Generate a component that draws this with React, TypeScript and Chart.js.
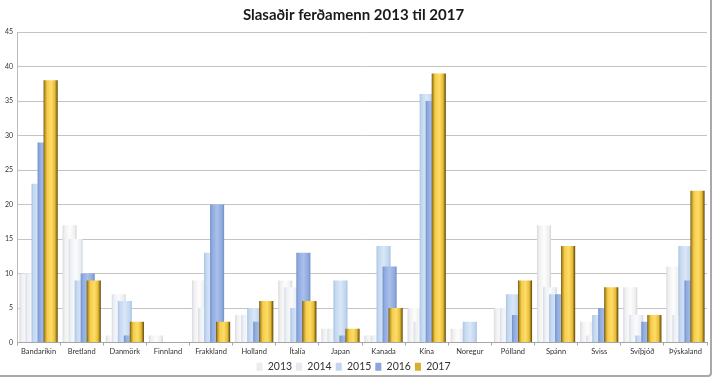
import React, { useEffect, useRef } from "react";
import { Chart, registerables } from "chart.js";

Chart.register(...registerables);

const titleText = "Slasaðir ferðamenn 2013 til 2017";

const categories = [
  "Bandaríkin", "Bretland", "Danmörk", "Finnland", "Frakkland", "Holland",
  "Ítalía", "Japan", "Kanada", "Kína", "Noregur", "Pólland", "Spánn",
  "Sviss", "Svíþjóð", "Þýskaland",
];

const seriesNames = ["2013", "2014", "2015", "2016", "2017"];

const v2013 = [10, 17, 1, 1, 9, 4, 9, 2, 1, 5, 2, 5, 17, 3, 8, 11];
const v2014 = [10, 15, 7, 0, 5, 4, 8, 2, 1, 3, 0, 5, 8, 1, 4, 4];
const v2015 = [23, 9, 6, 0, 13, 5, 5, 9, 14, 36, 3, 7, 7, 4, 1, 14];
const v2016 = [29, 10, 1, 0, 20, 3, 13, 1, 11, 35, 0, 4, 7, 5, 3, 9];
const v2017 = [38, 9, 3, 0, 3, 6, 6, 2, 5, 39, 0, 9, 14, 8, 4, 22];

const yTicksMax = 45;
const yTicksStep = 5;

type Stop = [number, string];

const palettes: { stops: Stop[]; solid: string; legend: string }[] = [
  { stops: [[0, "#d9d9dc"], [0.15, "#efeff1"], [0.5, "#fdfdfd"], [0.85, "#efeff1"], [1, "#d5d5d9"]], solid: "#ececee", legend: "#ececee" },
  { stops: [[0, "#d6dbe4"], [0.15, "#eceff4"], [0.5, "#fafbfd"], [0.85, "#eaedf2"], [1, "#d2d8e2"]], solid: "#e4e8ef", legend: "#e6e9f0" },
  { stops: [[0, "#aac3e3"], [0.15, "#c3d8f0"], [0.5, "#dae7f7"], [0.85, "#c2d6ef"], [1, "#a7c0e1"]], solid: "#c0d5ee", legend: "#c3d6ee" },
  { stops: [[0, "#7390c9"], [0.15, "#90abe0"], [0.5, "#a9c0ea"], [0.85, "#8fa9dd"], [1, "#6f8cc4"]], solid: "#8eaadf", legend: "#8aa6dc" },
  { stops: [[0, "#5e4606"], [0.07, "#b08a1a"], [0.25, "#f4cd4e"], [0.55, "#ffdc66"], [0.8, "#e6bd3c"], [0.92, "#9c7812"], [1, "#4f3a04"]], solid: "#dcb031", legend: "#d9ad2e" },
];

const makeBg = (stops: Stop[], solid: string) => (c: any) => {
  const el = c.element;
  if (c.type !== "data" || !el || typeof el.x !== "number" || !el.width || isNaN(el.x)) return solid;
  const g = c.chart.ctx.createLinearGradient(el.x - el.width / 2, 0, el.x + el.width / 2, 0);
  stops.forEach(([o, col]) => g.addColorStop(o, col));
  return g;
};

const forwardDraw = {
  id: "forwardDraw",
  beforeDatasetsDraw(chart: any) {
    const { ctx, chartArea } = chart;
    ctx.save();
    ctx.beginPath();
    ctx.rect(chartArea.left, chartArea.top, chartArea.right - chartArea.left, chartArea.bottom - chartArea.top);
    ctx.clip();
    for (let i = 0; i < chart.data.datasets.length; i++) {
      const meta = chart.getDatasetMeta(i);
      if (chart.isDatasetVisible(i)) meta.controller.draw();
    }
    ctx.restore();
    return false;
  },
};

export default function App() {
  const ref = useRef<HTMLCanvasElement | null>(null);
  useEffect(() => {
    if (!ref.current) return;
    const values = [v2013, v2014, v2015, v2016, v2017];
    const chart = new Chart(ref.current, {
      type: "bar",
      data: {
        labels: categories,
        datasets: seriesNames.map((name, i) => ({
          label: name,
          data: values[i],
          backgroundColor: makeBg(palettes[i].stops, palettes[i].solid) as any,
          borderWidth: 0,
          categoryPercentage: 0.7,
          barPercentage: 2.33,
        })),
      },
      options: {
        animation: false,
        responsive: false,
        maintainAspectRatio: false,
        layout: { padding: { left: 0, right: 6, top: 0, bottom: -4 } },
        plugins: {
          title: {
            display: true,
            text: titleText,
            color: "#1a1a1a",
            font: { family: "Lato, 'Open Sans', sans-serif", size: 15, weight: "bold" },
            padding: { top: 6, bottom: 8 },
          },
          legend: {
            position: "bottom",
            labels: {
              boxWidth: 6,
              boxHeight: 8,
              padding: 4,
              color: "#333333",
              font: { family: "Lato, sans-serif", size: 10.5 },
              generateLabels: (ch: any) => {
                const base = (Chart as any).defaults.plugins.legend.labels.generateLabels(ch);
                return base.map((it: any, i: number) => ({
                  ...it,
                  fillStyle: palettes[i].legend,
                  strokeStyle: palettes[i].legend,
                  lineWidth: 0,
                }));
              },
            },
          },
          tooltip: { enabled: false },
        },
        scales: {
          x: {
            grid: { display: true, drawOnChartArea: false, drawTicks: true, tickLength: 3, color: "#a6a6a6", offset: true },
            border: { color: "#a6a6a6" },
            ticks: {
              color: "#333333",
              font: { family: "Lato, sans-serif", size: 7.5 },
              maxRotation: 0,
              autoSkip: false,
              padding: 2,
            },
            afterFit: (s: any) => { s.height = 15; },
          },
          y: {
            min: 0,
            max: yTicksMax,
            ticks: {
              stepSize: yTicksStep,
              color: "#333333",
              font: { family: "Lato, sans-serif", size: 7 },
              padding: 4,
            },
            grid: { color: "#c4c4c4", lineWidth: 1, drawTicks: false },
            border: { color: "#bdbdbd" },
            afterFit: (s: any) => { s.width = 17; },
          },
        },
      },
      plugins: [forwardDraw],
    });
    chart.update();
    return () => chart.destroy();
  }, []);
  return (
    <div style={{ position: "fixed", left: 0, top: 0, width: 713, height: 378, background: "#ffffff" }}>
      <canvas ref={ref} width={713} height={378} style={{ display: "block", width: 713, height: 378 }} />
      <div style={{ position: "absolute", left: 0, top: 0, width: 710, height: 375, borderRight: "2px solid #a9a9a9", borderBottom: "2px solid #a9a9a9", borderBottomRightRadius: 4, pointerEvents: "none" }} />
    </div>
  );
}
